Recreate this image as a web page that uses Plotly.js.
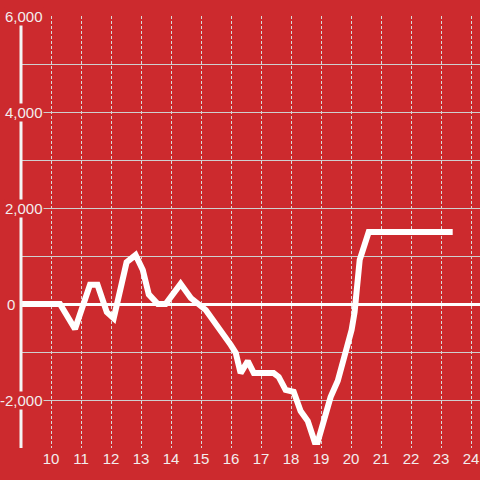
<!DOCTYPE html>
<html>
<head>
<meta charset="utf-8">
<script src="https://cdn.plot.ly/plotly-3.0.1.min.js"></script>
<style>html,body{margin:0;padding:0;background:#cc2a2e;overflow:hidden}#chart{width:480px;height:480px}</style>
</head>
<body>
<div id="chart"></div>
<script>
var xValues = [9.0, 10.3, 10.8, 11.3, 11.55, 11.86, 12.09, 12.52, 12.82, 13.06, 13.26, 13.56, 13.82, 14.32, 14.66, 14.99, 15.16, 15.99, 16.16, 16.32, 16.56, 16.76, 17.42, 17.59, 17.82, 18.09, 18.32, 18.56, 18.79, 18.89, 19.09, 19.32, 19.56, 19.79, 20.02, 20.12, 20.29, 20.59, 23.39];
var yValues = [0, 0, -520, 400, 400, -170, -300, 870, 1020, 710, 200, 0, 0, 420, 125, -60, -125, -850, -1020, -1440, -1190, -1440, -1440, -1520, -1790, -1830, -2230, -2440, -2875, -2875, -2480, -1940, -1600, -1060, -540, -170, 920, 1500, 1500];
var xTickVals = [10, 11, 12, 13, 14, 15, 16, 17, 18, 19, 20, 21, 22, 23, 24];
var yLabelVals = [6000, 4000, 2000, 0, -2000];
var yLabelText = ["6,000", "4,000", "2,000", "0", "-2,000"];

var bg = "#cc2a2e";
var textColor = "#f3eded";
var fontFam = "'Liberation Sans', Arial, sans-serif";

var annotations = yLabelVals.map(function (v, i) {
  return {
    xref: "paper", yref: "y", x: 0, y: v,
    text: yLabelText[i], showarrow: false,
    xanchor: "right", yanchor: "middle", xshift: (v === 0 ? -5 : 23),
    bgcolor: bg, borderpad: 0,
    font: {family: fontFam, size: 15, color: textColor}
  };
});

var trace = {
  x: xValues, y: yValues, type: "scatter", mode: "lines",
  line: {color: "#ffffff", width: 6},
  hoverinfo: "skip"
};

var layout = {
  width: 480, height: 480,
  margin: {l: 21, r: 0, t: 16, b: 32, pad: 0},
  paper_bgcolor: bg, plot_bgcolor: bg,
  showlegend: false,
  font: {family: fontFam, size: 15, color: textColor},
  xaxis: {
    range: [9, 24.3],
    tickvals: xTickVals,
    ticktext: xTickVals.map(String),
    showgrid: true, gridcolor: "#d9d9d9", gridwidth: 1, griddash: "3px,2px",
    zeroline: false, showline: false, ticks: "",
    tickfont: {family: fontFam, size: 15, color: textColor}
  },
  yaxis: {
    range: [-3000, 6000],
    dtick: 1000, tick0: 0,
    showticklabels: false,
    showgrid: true, gridcolor: "#cfcfcf", gridwidth: 1,
    zeroline: true, zerolinecolor: "#ffffff", zerolinewidth: 3,
    showline: false, ticks: ""
  },
  shapes: [{
    type: "line", xref: "paper", yref: "y", x0: 0, x1: 0, y0: -3000, y1: 5830,
    line: {color: "#f4f4f4", width: 3}, layer: "above"
  }],
  annotations: annotations
};

Plotly.newPlot("chart", [trace], layout, {staticPlot: true, displayModeBar: false});
</script>
</body>
</html>
